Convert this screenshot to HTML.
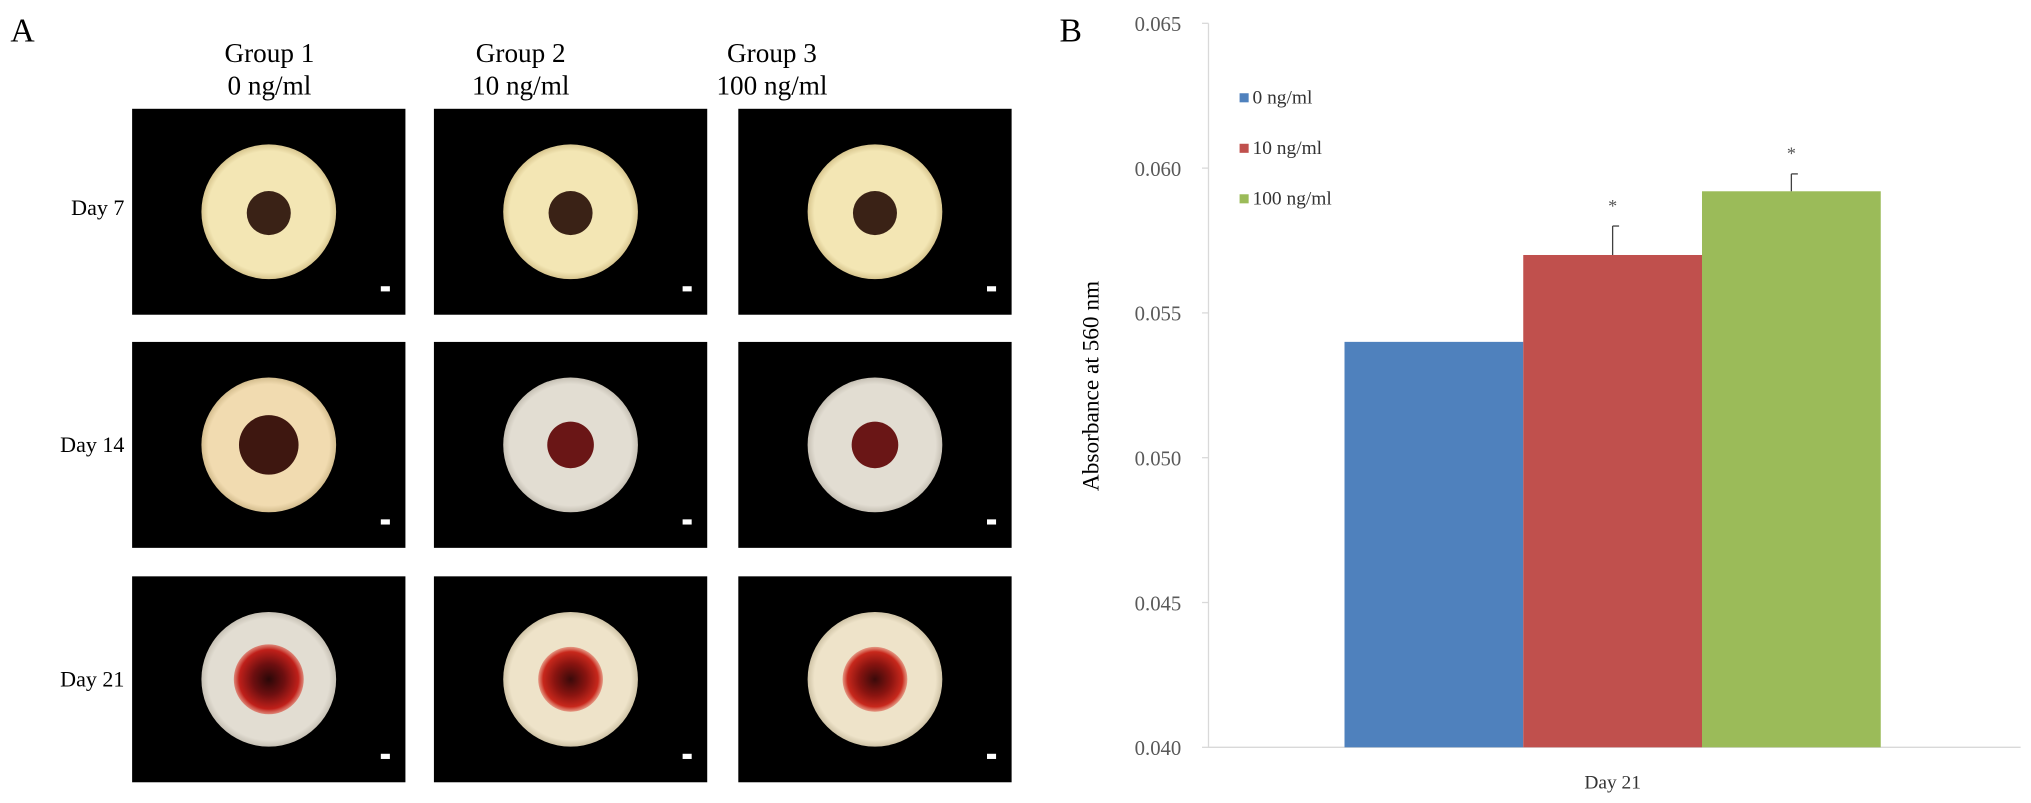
<!DOCTYPE html>
<html><head><meta charset="utf-8"><style>
html,body{margin:0;padding:0;background:#fff;}
svg{display:block;font-family:"Liberation Serif",serif;}
</style></head><body>
<svg id="fig" width="2031" height="803" viewBox="0 0 1568 620" preserveAspectRatio="none" xmlns="http://www.w3.org/2000/svg">
<defs>
<radialGradient id="disc7" cx="50%" cy="50%" r="50%"><stop offset="0.9" stop-color="#f3e6b4"/><stop offset="1" stop-color="#d8c68f"/></radialGradient>
<radialGradient id="disc14a" cx="50%" cy="50%" r="50%"><stop offset="0.9" stop-color="#f1dbb0"/><stop offset="1" stop-color="#d4bd8e"/></radialGradient>
<radialGradient id="discGray" cx="50%" cy="50%" r="50%"><stop offset="0.9" stop-color="#e2ddd2"/><stop offset="1" stop-color="#c6c0b4"/></radialGradient>
<radialGradient id="discBeige" cx="50%" cy="50%" r="50%"><stop offset="0.9" stop-color="#eee3c9"/><stop offset="1" stop-color="#cfc3a6"/></radialGradient>
<radialGradient id="core21" cx="50%" cy="50%" r="50%"><stop offset="0" stop-color="#2a0808"/><stop offset="0.45" stop-color="#6e0f10"/><stop offset="0.85" stop-color="#c0201a"/><stop offset="1" stop-color="#d84a3a" stop-opacity="0.6"/></radialGradient>
<radialGradient id="core21b" cx="50%" cy="50%" r="50%"><stop offset="0" stop-color="#3a0a0a"/><stop offset="0.5" stop-color="#8a1410"/><stop offset="0.85" stop-color="#c8281c"/><stop offset="1" stop-color="#d84a3a" stop-opacity="0.5"/></radialGradient>
</defs>
<text x="8" y="32" font-size="26">A</text>
<text x="818" y="32" font-size="26">B</text>
<g font-size="21" text-anchor="middle">
<text x="208" y="48">Group 1</text>
<text x="208" y="73">0 ng/ml</text>
<text x="402" y="48">Group 2</text>
<text x="402" y="73">10 ng/ml</text>
<text x="596" y="48">Group 3</text>
<text x="596" y="73">100 ng/ml</text>
</g>
<g font-size="17" text-anchor="end">
<text x="96" y="166">Day 7</text>
<text x="96" y="349">Day 14</text>
<text x="96" y="530">Day 21</text>
</g>
<g id="panels"></g>

<g id="chart"></g>
</svg>
<script>
const categories = ["0 ng/ml", "10 ng/ml", "100 ng/ml"];
const values = [0.0540, 0.0570, 0.0592];
const errors = [0.0000, 0.0010, 0.0006];
const significant = [false, true, true];
const colors = ["#4f81bd", "#c0504d", "#9bbb59"];
const yTicks = [0.040, 0.045, 0.050, 0.055, 0.060, 0.065];
const yTickLabels = ["0.040", "0.045", "0.050", "0.055", "0.060", "0.065"];
const xLabel = "Day 21";

const NS = "http://www.w3.org/2000/svg";
function mk(tag, attrs, parent, txt){ const e=document.createElementNS(NS,tag); for(const k in attrs) e.setAttribute(k,attrs[k]); if(txt!==undefined) e.textContent=txt; parent.appendChild(e); return e; }

// panels
const panels = document.getElementById('panels');
const colX = [102, 335, 570], rowY = [84, 264, 445];
const pw = 211, ph = 159;
const discs = [["disc7","disc7","disc7"],["disc14a","discGray","discGray"],["discGray","discBeige","discBeige"]];
for (let r=0;r<3;r++) for (let c=0;c<3;c++){
  const x=colX[c], y=rowY[r];
  const g = mk('g',{},panels);
  
  
  mk('rect',{x:x,y:y,width:pw,height:ph,fill:'#000'},g);
  const cx=x+pw/2, cy=y+ph/2;
  mk('circle',{cx:cx,cy:cy,r:52,fill:'url(#'+discs[r][c]+')'},g);
  if (r===0) mk('circle',{cx:cx,cy:cy+1,r:17,fill:'#3a2216'},g);
  else if (r===1) mk('circle',{cx:cx,cy:cy,r:c===0?23:18,fill:c===0?'#3e1710':'#6a1616'},g);
  else mk('circle',{cx:cx,cy:cy,r:c===0?27:25,fill:'url(#'+(c===0?'core21':'core21b')+')'},g);
  mk('rect',{x:x+pw-19,y:y+ph-22,width:7,height:4,fill:'#fff'},g);
}

// chart
const chart = document.getElementById('chart');
const axX = 933, axY = 577, axTop = 18, axRight = 1560;
const yMin = 0.040, yMax = 0.065;
function yS(v){ return axY - (v - yMin)/(yMax - yMin)*(axY - axTop); }
const groupStart = 1038, barW = 138;
function xS(i){ return groupStart + i*barW; }

const yAxis = mk('line',{x1:axX,y1:axTop,x2:axX,y2:axY,stroke:'#d9d9d9','stroke-width':1},chart);


const xAxis = mk('line',{x1:axX,y1:axY,x2:axRight,y2:axY,stroke:'#d9d9d9','stroke-width':1},chart);


yTicks.forEach((t,i)=>{
  const tk = mk('line',{x1:axX-5,y1:yS(t),x2:axX,y2:yS(t),stroke:'#d9d9d9'},chart);
  
  
  const lb = mk('text',{x:axX-21,y:yS(t)+6,'font-size':16,'text-anchor':'end',fill:'#595959'},chart,yTickLabels[i]);
  
  
});
const yt = mk('text',{x:0,y:0,'font-size':18,'text-anchor':'middle',transform:'translate(848,298) rotate(-90)'},chart,'Absorbance at 560 nm');


const xl = mk('text',{x:xS(0)+barW*1.5,y:609,'font-size':15,'text-anchor':'middle',fill:'#333'},chart,xLabel);



values.forEach((v,i)=>{
  const b = mk('rect',{x:xS(i),y:yS(v),width:barW,height:axY-yS(v),fill:colors[i]},chart);
  
  
  if (errors[i]>0){
    const cx = xS(i)+barW/2;
    const e = mk('line',{x1:cx,y1:yS(v),x2:cx,y2:yS(v+errors[i]),stroke:'#404040','stroke-width':1},chart);
    
    
    const ec = mk('line',{x1:cx,y1:yS(v+errors[i]),x2:cx+5,y2:yS(v+errors[i]),stroke:'#404040','stroke-width':1},chart);
    
    
  }
  if (significant[i]){
    const cx = xS(i)+barW/2;
    const s = mk('text',{x:cx,y:yS(v+errors[i])-11,'font-size':14,'text-anchor':'middle',fill:'#555'},chart,'*');
    
    
  }
});

categories.forEach((c,i)=>{
  const y = 78 + i*39;
  const g = mk('g',{},chart);
  
  
  mk('rect',{x:957,y:y-6,width:7,height:7,fill:colors[i]},g);
  mk('text',{x:967,y:y+2,'font-size':15,fill:'#333'},g,c);
});
</script>
</body></html>
